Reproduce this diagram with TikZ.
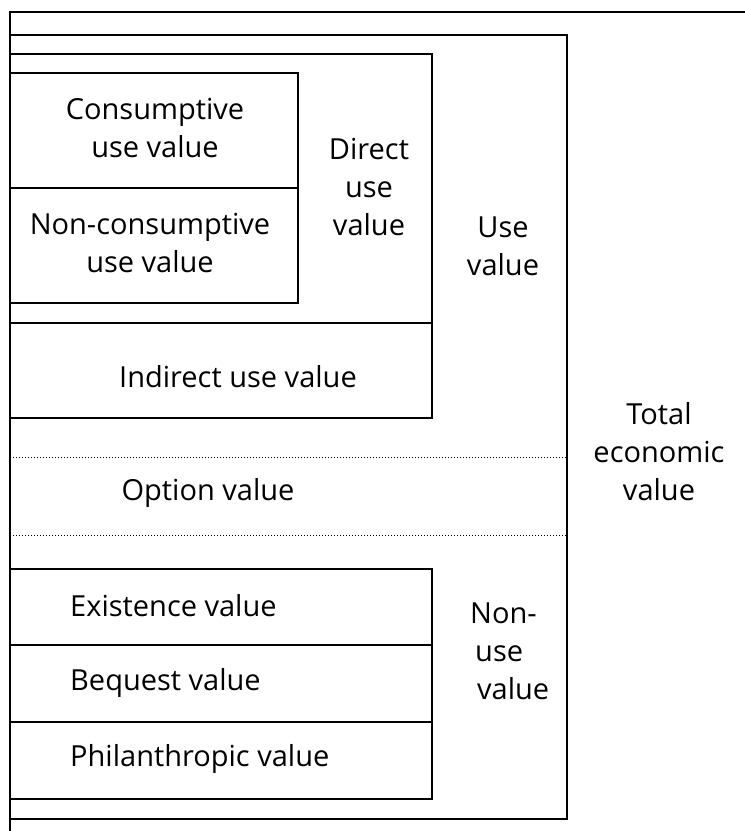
\documentclass[tikz,border=0pt]{standalone}
\usepackage{fontspec}
\setmainfont{Open Sans}
\begin{document}
\begin{tikzpicture}[x=1pt,y=-1pt,
  frame/.style={draw=black,line width=1.4pt},
  sep/.style={draw=black,line width=1pt,dotted},
  lbl/.style={font=\fontsize{29}{38}\selectfont,align=center,inner sep=0pt},
  lbll/.style={font=\fontsize{29}{38}\selectfont,align=left,inner sep=0pt,anchor=west}]
\useasboundingbox (0,0) rectangle (745,831);
% outer frame
\draw[frame] (745,12) -- (10,12) -- (10,831);
\draw[frame] (10,35) rectangle (567,819);
% use value boxes
\draw[frame] (10,54) rectangle (432,418);
\draw[frame] (10,323) -- (432,323);
\draw[frame] (10,73) rectangle (298,303);
\draw[frame] (10,188) -- (298,188);
% option value separators
\draw[sep] (10,457) -- (567,457);
\draw[sep] (10,535) -- (567,535);
% non-use boxes
\draw[frame] (10,569) rectangle (432,799);
\draw[frame] (10,645) -- (432,645);
\draw[frame] (10,722) -- (432,722);
% labels
\node[lbl] (cons) at (155,128) {Consumptive\\use value};
\node[lbl] (noncons) at (150,243) {Non-consumptive\\use value};
\node[lbl] (direct) at (369,187) {Direct\\use\\value};
\node[lbl] (use) at (503,246) {Use\\value};
\node[lbl] (indirect) at (238,377) {Indirect use value};
\node[lbl] (total) at (659,452) {Total\\economic\\value};
\node[lbl] (option) at (208,493) {Option value};
\node[lbll] (exist) at (70,606) {Existence value};
\node[lbll] (bequest) at (70,683) {Bequest value};
\node[lbll] (phil) at (70,759) {Philanthropic value};
\node[lbll] (nonuse) at (470,651) {Non-\\\hspace*{5pt}use\\\hspace*{7pt}value};
\end{tikzpicture}
\end{document}
